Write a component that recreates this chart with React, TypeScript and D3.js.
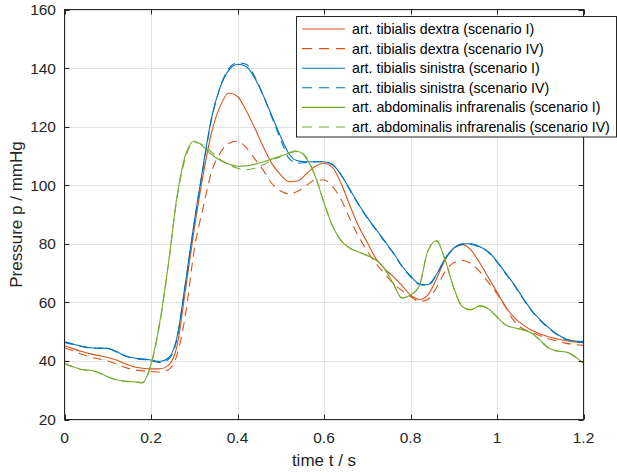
import React from "react";
import * as d3 from "d3";

const time = [0, 0.02, 0.04, 0.06, 0.08, 0.1, 0.12, 0.14, 0.16, 0.18, 0.2, 0.22, 0.24, 0.26, 0.28, 0.3, 0.32, 0.34, 0.36, 0.38, 0.4, 0.42, 0.44, 0.46, 0.48, 0.5, 0.52, 0.54, 0.56, 0.58, 0.6, 0.62, 0.64, 0.66, 0.68, 0.7, 0.72, 0.74, 0.76, 0.78, 0.8, 0.82, 0.84, 0.86, 0.88, 0.9, 0.92, 0.94, 0.96, 0.98, 1.0, 1.02, 1.04, 1.06, 1.08, 1.1, 1.12, 1.14, 1.16, 1.18, 1.2];

const dextraI = [45.2, 44.2, 43.2, 42.4, 41.8, 41.2, 40.3, 39.0, 38.0, 37.5, 37.3, 37.3, 38.5, 45, 64.5, 85, 103, 118, 127, 131.5, 130.3, 125.5, 119.5, 113, 107.3, 103.5, 101.2, 101.5, 104, 106.5, 107.5, 106, 100.5, 93, 86, 80.5, 75, 71.5, 68.8, 65.8, 62.5, 61, 62.5, 68, 74.5, 78.5, 79.7, 77.8, 73.5, 68.5, 63.5, 58.5, 54.8, 52.3, 50.5, 49.2, 48.2, 47.5, 46.9, 46.5, 46.2];
const dextraIV = [44.5, 43.5, 42.3, 41.3, 40.7, 40.0, 39.0, 37.8, 37.0, 36.6, 36.4, 36.2, 37, 42, 56, 78, 92, 104.5, 111, 114.3, 115, 112.8, 109, 105, 100.5, 98, 97, 98, 100, 101.8, 101.8, 99.5, 95, 88.5, 82.5, 77.5, 73.3, 69.8, 66.5, 64, 62, 60.3, 61, 65, 70.5, 73.5, 74.3, 73.2, 70.5, 66.8, 63, 58.3, 53.5, 51, 49.8, 48.6, 47.5, 46.8, 46, 45.6, 45.3];
const sinistraI = [46.5, 45.8, 45.0, 44.5, 44.4, 44.3, 43.2, 41.8, 41.0, 40.7, 40.3, 39.8, 41.0, 48, 67, 87.5, 106, 123, 133.5, 139.3, 141.3, 140.5, 136.5, 130.5, 123.5, 116.5, 110.5, 108.3, 108, 108, 108, 107, 103.5, 98.5, 93.5, 89, 85, 81, 77, 72.5, 69, 66.3, 66, 69.5, 75, 78.5, 80, 80, 79, 77.3, 74, 70, 66, 61.5, 57.3, 54, 51.3, 49, 47.5, 46.8, 46.6];
const sinistraIV = [46.3, 45.6, 44.9, 44.4, 44.3, 44.2, 43.1, 41.7, 40.9, 40.5, 40.1, 39.5, 40.5, 47.5, 66.5, 87, 105.5, 122.5, 133.5, 139.8, 141.8, 141.3, 137, 130.5, 123, 115.5, 109, 107.5, 107.8, 108, 108, 107, 103.3, 98.3, 93.3, 88.8, 84.8, 80.8, 76.8, 72.3, 68.8, 66.2, 65.8, 69.3, 74.8, 78.3, 79.8, 79.8, 78.8, 77.1, 73.8, 69.8, 65.8, 61.3, 57.1, 53.8, 51.1, 48.8, 47.3, 46.6, 46.4];
const abdominalisI = [39.2, 38, 37.1, 36.8, 36, 34.6, 33.6, 33.1, 32.9, 32.6, 39, 53, 73, 96, 110.5, 115, 113.3, 110.5, 108.5, 107.2, 106.5, 106.6, 107.2, 108, 109, 110, 111, 111.5, 109, 103, 94, 86, 81, 78.5, 77.2, 76, 74.5, 71.5, 66.5, 61.5, 62.5, 65.5, 77.5, 81, 74.5, 65, 58.5, 57.5, 58.8, 57.8, 55, 52.3, 51.3, 50.6, 49.5, 47, 44.3, 43.4, 43, 41.5, 39.2];
const abdominalisIV = [39.0, 37.9, 37.0, 36.7, 35.9, 34.5, 33.5, 33.0, 32.8, 32.5, 38.5, 52.5, 72.5, 95.5, 109.5, 114.6, 113.8, 111.3, 108.8, 107, 105.8, 105.3, 105.8, 107, 108.5, 109.8, 111.2, 111.8, 109.3, 103, 94, 86, 81, 78.5, 77.2, 76, 74.5, 71.5, 66.5, 61.5, 62.5, 65.5, 77.5, 81, 74.5, 65, 58.5, 57.5, 58.8, 57.8, 55, 52.3, 51.3, 50.6, 49.5, 47, 44.3, 43.4, 43, 41.5, 39.2];

const seriesNames = [
  "art. tibialis dextra (scenario I)",
  "art. tibialis dextra (scenario IV)",
  "art. tibialis sinistra (scenario I)",
  "art. tibialis sinistra (scenario IV)",
  "art. abdominalis infrarenalis (scenario I)",
  "art. abdominalis infrarenalis (scenario IV)",
];
const seriesValues = [dextraI, dextraIV, sinistraI, sinistraIV, abdominalisI, abdominalisIV];
const seriesColors = ["#D95319", "#D95319", "#0072BD", "#0072BD", "#77AC30", "#77AC30"];
const seriesDashed = [false, true, false, true, false, true];

const xTicks = [0, 0.2, 0.4, 0.6, 0.8, 1, 1.2];
const yTicks = [20, 40, 60, 80, 100, 120, 140, 160];

const W = 617;
const H = 473;
const L = 64.5, R = 583.5, T = 9.5, B = 419.5;
const FONT = "'Liberation Sans', Arial, Helvetica, sans-serif";
const AX = "#262626";

export default function App() {
  const x = d3.scaleLinear().domain([0, 1.2]).range([L, R]);
  const y = d3.scaleLinear().domain([20, 160]).range([B, T]);
  const line = d3
    .line<number>()
    .x((_, i) => x(time[i]))
    .y((d) => y(d))
    .curve(d3.curveMonotoneX);

  const tickLen = 5;
  const legX = 296.5, legY = 16.5, legW = 320, legH = 120.5;
  const rowY0 = 29, rowStep = 19.6;

  return (
    <svg width={W} height={H} style={{ position: "absolute", left: 0, top: 0, background: "#fff" }} fontFamily={FONT}>
      <rect x={0} y={0} width={W} height={H} fill="#fff" />
      <defs>
        <clipPath id="plotclip">
          <rect x={L} y={T} width={R - L} height={B - T} />
        </clipPath>
      </defs>
      {/* grid */}
      <g stroke="#e3e3e3" strokeWidth={1}>
        {xTicks.map((t) => (
          <line key={"gx" + t} x1={Math.round(x(t)) + 0.5} x2={Math.round(x(t)) + 0.5} y1={T} y2={B} />
        ))}
        {yTicks.map((t) => (
          <line key={"gy" + t} x1={L} x2={R} y1={Math.round(y(t)) + 0.5} y2={Math.round(y(t)) + 0.5} />
        ))}
      </g>
      {/* series */}
      <g clipPath="url(#plotclip)" fill="none">
        {seriesValues.map((vals, i) => (
          <path
            key={seriesNames[i]}
            d={line(vals) || ""}
            stroke={seriesColors[i]}
            strokeWidth={1.1}
            strokeDasharray={seriesDashed[i] ? "9,6" : undefined}
          />
        ))}
      </g>
      {/* axes box and ticks */}
      <g stroke={AX} strokeWidth={1} fill="none">
        <rect x={L} y={T} width={R - L} height={B - T} />
        {xTicks.map((t) => {
          const px = Math.round(x(t)) + 0.5;
          return (
            <g key={"tx" + t}>
              <line x1={px} x2={px} y1={B} y2={B - tickLen} />
              <line x1={px} x2={px} y1={T} y2={T + tickLen} />
            </g>
          );
        })}
        {yTicks.map((t) => {
          const py = Math.round(y(t)) + 0.5;
          return (
            <g key={"ty" + t}>
              <line x1={L} x2={L + tickLen} y1={py} y2={py} />
              <line x1={R} x2={R - tickLen} y1={py} y2={py} />
            </g>
          );
        })}
      </g>
      {/* tick labels */}
      <g fill={AX} fontSize={15.5}>
        {xTicks.map((t) => (
          <text key={"lx" + t} x={x(t)} y={443} textAnchor="middle">
            {d3.format("~g")(t)}
          </text>
        ))}
        {yTicks.map((t) => (
          <text key={"ly" + t} x={56} y={y(t)} textAnchor="end" dominantBaseline="central">
            {t}
          </text>
        ))}
      </g>
      {/* axis labels */}
      <text x={(L + R) / 2} y={466} textAnchor="middle" fontSize={17} fill={AX}>
        time t / s
      </text>
      <text
        transform={`translate(22,${(T + B) / 2}) rotate(-90)`}
        textAnchor="middle"
        fontSize={17}
        fill={AX}
      >
        Pressure p / mmHg
      </text>
      {/* legend */}
      <rect x={legX} y={legY} width={legW} height={legH} fill="#fff" stroke={AX} strokeWidth={1} />
      {seriesNames.map((name, i) => {
        const ry = rowY0 + i * rowStep;
        return (
          <g key={"leg" + i}>
            <line
              x1={302}
              x2={345}
              y1={ry}
              y2={ry}
              stroke={seriesColors[i]}
              strokeWidth={1.1}
              strokeDasharray={seriesDashed[i] ? "10,7" : undefined}
            />
            <text x={352} y={ry} dominantBaseline="central" fontSize={14.2} fill="#000">
              {name}
            </text>
          </g>
        );
      })}
    </svg>
  );
}
